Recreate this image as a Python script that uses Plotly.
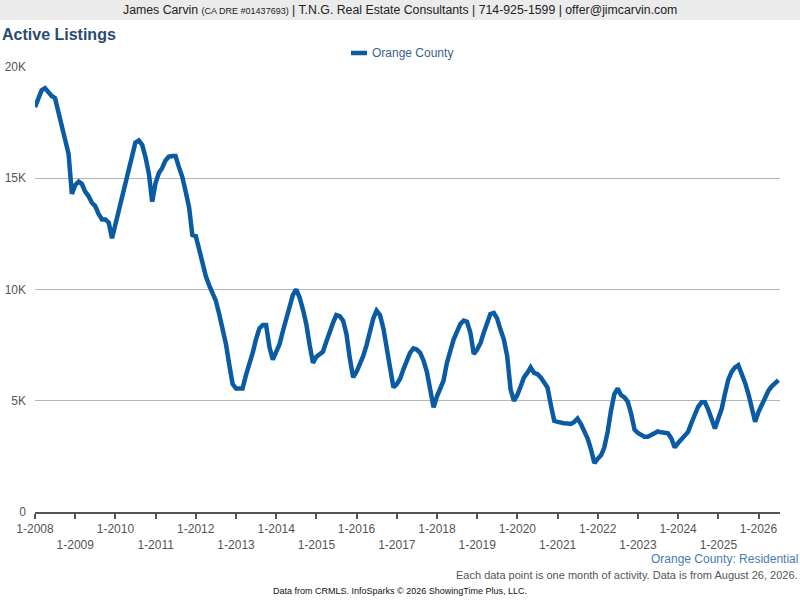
import plotly.graph_objs as go
import pandas as pd

# monthly active listings, Orange County, Jan 2008 .. Jul 2026 (thousands)
y2008 = [18.2, 18.6, 18.95, 19.05, 18.85, 18.7, 18.6, 17.95, 17.2, 16.7, 16.1, 14.3]
y2009 = [14.7, 14.85, 14.75, 14.4, 14.2, 13.9, 13.75, 13.4, 13.15, 13.15, 13.0, 12.3]
y2010 = [12.9, 13.55, 14.05, 14.65, 15.35, 16.0, 16.6, 16.7, 16.5, 15.95, 15.2, 13.95]
y2011 = [14.8, 15.25, 15.45, 15.8, 15.97, 16.0, 16.0, 15.5, 15.05, 14.4, 13.7, 12.45]
y2012 = [12.4, 11.8, 11.1, 10.6, 10.2, 9.9, 9.5, 8.9, 8.25, 7.55, 6.6, 5.75]
y2013 = [5.55, 5.53, 5.55, 6.15, 6.6, 7.15, 7.75, 8.25, 8.4, 8.4, 7.4, 6.85]
y2014 = [7.2, 7.55, 8.1, 8.65, 9.2, 9.75, 10.0, 9.65, 9.1, 8.45, 7.5, 6.7]
y2015 = [6.98, 7.1, 7.2, 7.65, 8.15, 8.5, 8.85, 8.8, 8.6, 8.0, 6.9, 6.05]
y2016 = [6.3, 6.65, 7.0, 7.5, 8.15, 8.7, 9.05, 8.85, 8.25, 7.4, 6.5, 5.6]
y2017 = [5.75, 6.0, 6.4, 6.85, 7.15, 7.35, 7.3, 7.15, 6.8, 6.3, 5.5, 4.7]
y2018 = [5.2, 5.55, 5.9, 6.7, 7.3, 7.75, 8.1, 8.45, 8.6, 8.55, 8.05, 7.1]
y2019 = [7.3, 7.6, 8.05, 8.55, 8.9, 8.95, 8.7, 8.2, 7.75, 7.0, 5.5, 5.0]
y2020 = [5.26, 5.65, 6.05, 6.25, 6.5, 6.25, 6.2, 6.05, 5.85, 5.6, 4.8, 4.1]
y2021 = [4.05, 4.0, 3.99, 3.98, 3.96, 4.05, 4.2, 3.95, 3.65, 3.3, 2.8, 2.2]
y2022 = [2.4, 2.56, 2.9, 3.6, 4.55, 5.3, 5.55, 5.25, 5.15, 4.95, 4.4, 3.7]
y2023 = [3.55, 3.45, 3.38, 3.38, 3.45, 3.55, 3.62, 3.58, 3.58, 3.54, 3.3, 2.9]
y2024 = [3.1, 3.25, 3.4, 3.6, 4.0, 4.4, 4.73, 4.93, 4.93, 4.6, 4.1, 3.75]
y2025 = [4.21, 4.65, 5.3, 5.95, 6.3, 6.5, 6.6, 6.25, 5.8, 5.3, 4.55, 4.06]
y2026 = [4.5, 4.85, 5.15, 5.45, 5.65, 5.8, 5.93]

listings_k = (y2008 + y2009 + y2010 + y2011 + y2012 + y2013 + y2014 + y2015 + y2016
              + y2017 + y2018 + y2019 + y2020 + y2021 + y2022 + y2023 + y2024 + y2025 + y2026)
listings = [v * 1000 for v in listings_k]
months = pd.date_range('2008-01-01', periods=len(listings), freq='MS')

years = list(range(2008, 2027))
tick_vals = [f'{yr}-01-01' for yr in years]
tick_text = [f'1-{yr}' if yr % 2 == 0 else f'<br>1-{yr}' for yr in years]

font_name = 'Liberation Sans, Arial, sans-serif'
line_color = '#0a5ba3'

# plot area in pixels: left 35, right 780, top 67, bottom 512
plot_w = 745
plot_h = 445


def px(x):
    return (x - 35) / plot_w


def py(y):
    return (512 - y) / plot_h


fig = go.Figure()
fig.add_trace(go.Scatter(
    x=months, y=listings, mode='lines', name='Orange County',
    line=dict(color=line_color, width=4.5),
    hoverinfo='skip', showlegend=False
))

header = ('James Carvin <span style="font-size:9px">(CA DRE #01437693)</span> | '
          'T.N.G. Real Estate Consultants | 714-925-1599 | offer@jimcarvin.com')

fig.update_layout(
    width=800, height=600,
    margin=dict(l=35, r=20, t=67, b=88),
    paper_bgcolor='white',
    plot_bgcolor='white',
    font=dict(family=font_name, color='#555555', size=12),
    shapes=[
        dict(type='rect', xref='paper', yref='paper', x0=px(-10), x1=px(810),
             y0=py(20), y1=py(-10), fillcolor='#ebebeb', line=dict(width=0), layer='below'),
        # legend swatch
        dict(type='line', xref='paper', yref='paper', x0=px(351), x1=px(367),
             y0=py(53), y1=py(53), line=dict(color=line_color, width=4.5)),
    ],
    annotations=[
        dict(text=header, xref='paper', yref='paper', x=px(400), y=py(10),
             xanchor='center', yanchor='middle', showarrow=False,
             font=dict(size=12.3, color='#222222')),
        dict(text='<b>Active Listings</b>', xref='paper', yref='paper', x=px(0),
             y=py(34), xanchor='left', yanchor='middle', showarrow=False,
             font=dict(size=16, color='#2b4b72')),
        dict(text='Orange County', xref='paper', yref='paper', x=px(370), y=py(53),
             xanchor='left', yanchor='middle', showarrow=False,
             font=dict(size=12, color='#3b5f8a')),
        dict(text='Orange County: Residential', xref='paper', yref='paper', x=px(800),
             y=py(559), xanchor='right', yanchor='middle', showarrow=False,
             font=dict(size=12, color='#4a7ab0')),
        dict(text='Each data point is one month of activity. Data is from August 26, 2026.',
             xref='paper', yref='paper', x=px(800), y=py(575),
             xanchor='right', yanchor='middle', showarrow=False,
             font=dict(size=11, color='#555555')),
        dict(text='Data from CRMLS. InfoSparks © 2026 ShowingTime Plus, LLC.',
             xref='paper', yref='paper', x=px(400), y=py(591),
             xanchor='center', yanchor='middle', showarrow=False,
             font=dict(size=9, color='#111111')),
    ],
    xaxis=dict(
        type='date',
        range=['2008-01-01', '2026-07-15'],
        tickvals=tick_vals, ticktext=tick_text,
        showgrid=False, zeroline=False,
        showline=True, linecolor='#555555', linewidth=2,
        ticks='outside', ticklen=5, tickwidth=2, tickcolor='#555555',
        tickfont=dict(size=12, color='#555555'),
        automargin=False,
    ),
    yaxis=dict(
        range=[0, 20000],
        tickvals=[0, 5000, 10000, 15000, 20000],
        ticktext=['0', '5K', '10K', '15K', '20K'],
        showgrid=True, gridcolor='#b5b5b5', gridwidth=1,
        zeroline=False, showline=False,
        ticks='', ticklabelstandoff=8,
        tickfont=dict(size=12, color='#555555'),
        automargin=False,
    ),
)

fig.write_html('out.html', config={'displayModeBar': False},
               post_script="document.body.style.margin='0';")
